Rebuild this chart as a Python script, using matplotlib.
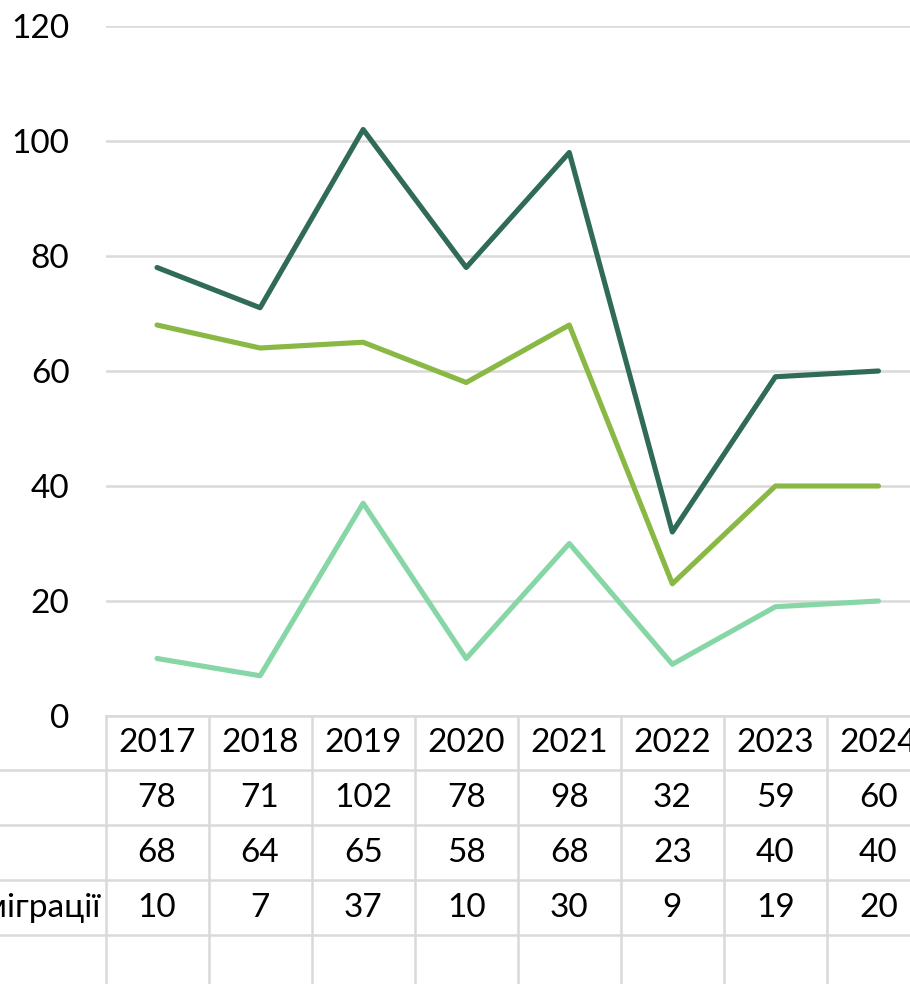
import matplotlib.pyplot as plt
from matplotlib.transforms import blended_transform_factory

plt.rcParams['font.family'] = ['Lato', 'DejaVu Sans']

years = ["2017", "2018", "2019", "2020", "2021", "2022", "2023", "2024"]
series_top = [78, 71, 102, 78, 98, 32, 59, 60]
series_mid = [68, 64, 65, 58, 68, 23, 40, 40]
series_low = [10, 7, 37, 10, 30, 9, 19, 20]
row_labels = ["", "", "Сальдо міграції"]
colors = ["#2F6B55", "#8AB844", "#86D6A6"]

W, H = 910, 984
fig = plt.figure(figsize=(W / 100, H / 100), dpi=100)

# axes runs past the right edge, like the cropped reference
left, right, top, bottom = 105.5, 930, 26, 716
ax = fig.add_axes([left / W, (H - bottom) / H, (right - left) / W, (bottom - top) / H])

x = list(range(len(years)))
for vals, c in zip([series_top, series_mid, series_low], colors):
    ax.plot(x, vals, color=c, linewidth=3.7, solid_capstyle="round",
            solid_joinstyle="round", zorder=3)

ax.set_xlim(-0.5, len(years) - 0.5)
ax.set_ylim(0, 120)
ax.set_yticks(range(0, 121, 20))
ax.set_xticks([])
ax.tick_params(axis="y", length=0, pad=26, labelsize=24)
ax.grid(axis="y", color="#D9D9D9", linewidth=1.8)
ax.set_axisbelow(True)
for s in ax.spines.values():
    s.set_visible(False)

# ---- data table under the plot ----
grid_c = "#D9D9D9"
row_h = 55 / (bottom - top)  # in axes fraction
tr = blended_transform_factory(ax.transData, ax.transAxes)
fig_x = blended_transform_factory(fig.transFigure, ax.transAxes)

# top edge of the table
ax.plot([-0.5, len(years) - 0.5], [0, 0], transform=tr, color=grid_c,
        linewidth=1.8, clip_on=False)
# row separators run all the way to the left edge of the figure
for i in range(1, 5):
    y = -i * row_h + 0.001
    ax.plot([0, 1], [y, y], transform=fig_x, color=grid_c, linewidth=1.8,
            clip_on=False)
# column separators
for i in range(len(years) + 1):
    ax.plot([i - 0.5, i - 0.5], [0, -5 * row_h], transform=tr, color=grid_c,
            linewidth=1.8, clip_on=False)

for i, yr in enumerate(years):
    ax.text(i, -0.5 * row_h + 0.001, yr, transform=tr, ha="center", va="center",
            fontsize=24, clip_on=False)

rows = [series_top, series_mid, series_low]
for r, vals in enumerate(rows):
    yc = -(r + 1.5) * row_h + 0.001
    for i, v in enumerate(vals):
        ax.text(i, yc, str(v), transform=tr, ha="center", va="center",
                fontsize=24, clip_on=False)
    if row_labels[r]:
        ax.text(100 / W, yc, row_labels[r], transform=fig_x, ha="right",
                va="center", fontsize=24, clip_on=False)

fig.savefig("out.png", dpi=100)
